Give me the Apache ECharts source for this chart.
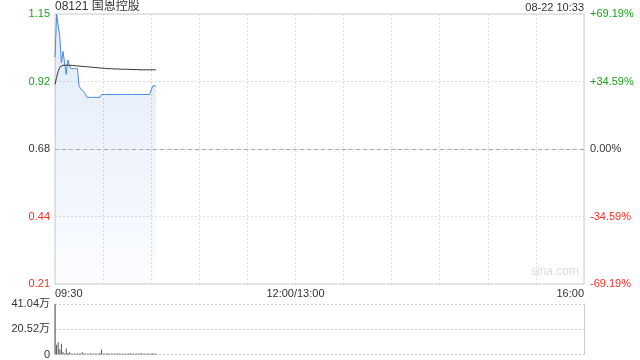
<!DOCTYPE html>
<html>
<head>
<meta charset="utf-8">
<script src="https://cdn.jsdelivr.net/npm/echarts@6/dist/echarts.min.js"></script>
<style>
html,body{margin:0;padding:0;background:#fff;}
#c{width:640px;height:360px;}
</style>
</head>
<body>
<div id="c"></div>
<script>
// ---- data ----
var stockTitle = '08121 国恩控股';
var stampText = '08-22 10:33';
var prevClose = 0.68;
var pctRange = 69.19;            // ± percent range of the price axis
var timeLabels = {0: '09:30', 150: '12:00/13:00', 330: '16:00'};
var totalMinutes = 330;
// per-minute prices from 09:30
var prices = [
  1.00, 1.15, 1.15, 1.07, 0.98, 1.02, 1.02, 0.94, 0.99, 0.97,
  0.96, 0.96, 0.96, 0.96, 0.96, 0.90, 0.89, 0.89, 0.88, 0.87,
  0.86, 0.86, 0.86, 0.86, 0.86, 0.86, 0.86, 0.86, 0.86, 0.87,
  0.87, 0.87, 0.87, 0.87, 0.87, 0.87, 0.87, 0.87, 0.87, 0.87,
  0.87, 0.87, 0.87, 0.87, 0.87, 0.87, 0.87, 0.87, 0.87, 0.87,
  0.87, 0.87, 0.87, 0.87, 0.87, 0.87, 0.87, 0.87, 0.87, 0.87,
  0.87, 0.90, 0.90, 0.90
];
var avgPrices = [
  0.905, 0.930, 0.950, 0.965, 0.970, 0.972, 0.973, 0.972, 0.972, 0.972,
  0.971, 0.971, 0.970, 0.970, 0.970, 0.969, 0.969, 0.968, 0.968, 0.967,
  0.966, 0.966, 0.965, 0.965, 0.964, 0.964, 0.963, 0.963, 0.962, 0.962,
  0.961, 0.961, 0.961, 0.960, 0.960, 0.960, 0.960, 0.959, 0.959, 0.959,
  0.959, 0.958, 0.958, 0.958, 0.958, 0.958, 0.957, 0.957, 0.957, 0.957,
  0.957, 0.957, 0.956, 0.956, 0.956, 0.956, 0.956, 0.956, 0.956, 0.956,
  0.956, 0.956, 0.956, 0.956
];
var volumes = [
  410400, 80000, 100000, 40000, 88000, 20000, 8000, 48000, 12000, 18000,
  8000, 6000, 8000, 6000, 8000, 10000, 8000, 18000, 8000, 6000,
  8000, 6000, 10000, 8000, 6000, 8000, 6000, 8000, 10000, 40000,
  8000, 6000, 8000, 10000, 6000, 8000, 6000, 8000, 6000, 8000,
  10000, 6000, 8000, 6000, 8000, 6000, 8000, 10000, 6000, 8000,
  6000, 8000, 6000, 8000, 10000, 6000, 8000, 6000, 8000, 6000,
  8000, 10000, 8000, 6000
];
var volMax = 410400;
var volTicks = [0, 205200, 410400];

// ---- build ----
function toPct(p){ return (p - prevClose) / prevClose * 100; }
var priceData = prices.map(function(p, i){ return [i, toPct(p)]; });
var avgData = avgPrices.map(function(p, i){ return [i, toPct(p)]; });
var volData = volumes.map(function(v, i){ return [i, v]; });

var GREEN = '#1aa31a', RED = '#f2302a', DARK = '#333';
function pctColor(v){ return v > 1e-6 ? GREEN : (v < -1e-6 ? RED : DARK); }
function fmtPct(v){
  var a = Math.floor(Math.abs(v) * 100 + 1e-6) / 100;
  if (a === 0) return '0.00%';
  return (v > 0 ? '+' : '-') + a.toFixed(2) + '%';
}
var FONT = '"Liberation Sans", Arial, "Noto Sans CJK SC", sans-serif';

var chart = echarts.init(document.getElementById('c'), null, {renderer: 'canvas'});
chart.setOption({
  animation: false,
  textStyle: {fontFamily: FONT},
  title: [
    {text: stockTitle, left: 55, top: 1, padding: 0, textStyle: {fontSize: 12, fontWeight: 'normal', color: '#333', fontFamily: FONT}},
    {text: stampText, right: 56, top: 2, padding: 0, textStyle: {fontSize: 11, fontWeight: 'normal', color: '#333', fontFamily: FONT}}
  ],
  grid: [
    {left: 55, right: 56, top: 14, height: 270, show: true, borderColor: '#ccc', borderWidth: 1},
    {left: 55, right: 56, top: 304, height: 51}
  ],
  xAxis: [
    {
      type: 'value', gridIndex: 0, min: 0, max: totalMinutes, interval: 30,
      axisLine: {show: false}, axisTick: {show: false},
      splitLine: {show: true, lineStyle: {color: '#ddd', type: [2, 2]}},
      axisLabel: {
        show: true, margin: 4, fontSize: 11, color: '#333', fontFamily: FONT,
        customValues: [0, 150, 330],
        alignMinLabel: 'left', alignMaxLabel: 'right',
        formatter: function(v){ return timeLabels[Math.round(v)] || ''; }
      }
    },
    {
      type: 'value', gridIndex: 1, min: 0, max: totalMinutes, interval: 30,
      axisLine: {show: false}, axisTick: {show: false}, axisLabel: {show: false},
      splitLine: {show: false}
    }
  ],
  yAxis: [
    {
      type: 'value', gridIndex: 0, min: -pctRange, max: pctRange, interval: pctRange / 2,
      axisLine: {show: false}, axisTick: {show: false},
      splitLine: {show: true, lineStyle: {color: '#ddd', type: [2, 2]}},
      axisLabel: {
        margin: 5, fontSize: 11, fontFamily: FONT,
        color: function(v){ return pctColor(Number(v)); },
        formatter: function(v){ return (prevClose * (1 + v / 100)).toFixed(2); }
      }
    },
    {
      type: 'value', gridIndex: 0, position: 'right', min: -pctRange, max: pctRange, interval: pctRange / 2,
      axisLine: {show: false}, axisTick: {show: false}, splitLine: {show: false},
      axisLabel: {
        margin: 6, fontSize: 11, fontFamily: FONT,
        color: function(v){ return pctColor(Number(v)); },
        formatter: function(v){ return fmtPct(v); }
      }
    },
    {
      type: 'value', gridIndex: 1, min: 0, max: volMax, interval: volMax / 2,
      axisLine: {show: true, lineStyle: {color: '#ccc'}}, axisTick: {show: false},
      splitLine: {show: true, lineStyle: {color: '#ccc', type: [2, 2]}},
      axisLabel: {
        margin: 5, fontSize: 11, color: '#333', fontFamily: FONT,
        customValues: volTicks,
        formatter: function(v){ return v === 0 ? '0' : (v / 10000).toFixed(2) + '万'; }
      }
    },
    {
      type: 'value', gridIndex: 1, position: 'right', min: 0, max: volMax, interval: volMax / 2,
      axisLine: {show: true, lineStyle: {color: '#ccc'}}, axisTick: {show: false},
      axisLabel: {show: false}, splitLine: {show: false}
    }
  ],
  series: [
    {
      type: 'line', xAxisIndex: 0, yAxisIndex: 0, data: priceData,
      symbol: 'none', lineStyle: {color: '#4a86e8', width: 1},
      areaStyle: {
        origin: 'start',
        color: new echarts.graphic.LinearGradient(0, 0, 0, 1, [
          {offset: 0, color: 'rgba(74,134,232,0.24)'},
          {offset: 1, color: 'rgba(74,134,232,0.03)'}
        ])
      },
      markLine: {
        silent: true, symbol: 'none', label: {show: false},
        lineStyle: {color: '#aaa', type: [4, 3], width: 1},
        data: [{yAxis: 0}]
      },
      z: 3
    },
    {
      type: 'line', xAxisIndex: 0, yAxisIndex: 0, data: avgData,
      symbol: 'none', lineStyle: {color: '#333', width: 1}, z: 4
    },
    {
      type: 'bar', xAxisIndex: 1, yAxisIndex: 2, data: volData,
      barWidth: 1, itemStyle: {color: '#555'}
    }
  ],
  graphic: [
    {type: 'text', left: 531, top: 266, style: {text: 'sina.com', fill: '#ddd', fontSize: 12, fontFamily: FONT}}
  ]
});
</script>
</body>
</html>
